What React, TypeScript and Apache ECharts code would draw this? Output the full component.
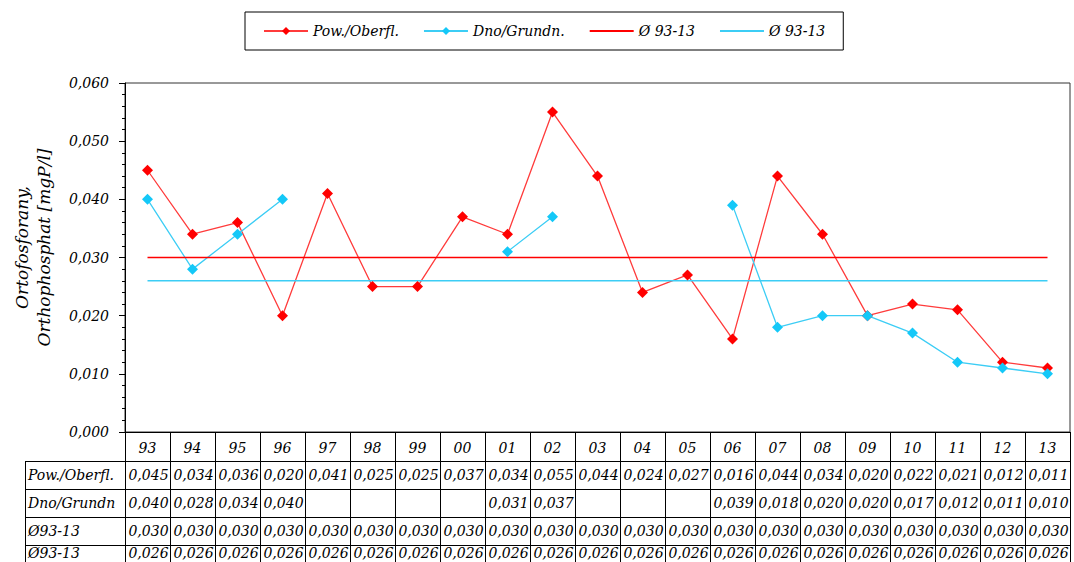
import React, { useEffect, useRef } from 'react';
import * as echarts from 'echarts';

const categories = ['93', '94', '95', '96', '97', '98', '99', '00', '01', '02', '03', '04', '05', '06', '07', '08', '09', '10', '11', '12', '13'];
const powValues = [0.045, 0.034, 0.036, 0.020, 0.041, 0.025, 0.025, 0.037, 0.034, 0.055, 0.044, 0.024, 0.027, 0.016, 0.044, 0.034, 0.020, 0.022, 0.021, 0.012, 0.011];
const dnoValues = [0.040, 0.028, 0.034, 0.040, null, null, null, null, 0.031, 0.037, null, null, null, 0.039, 0.018, 0.020, 0.020, 0.017, 0.012, 0.011, 0.010];
const avgPowValues = [0.030, 0.030, 0.030, 0.030, 0.030, 0.030, 0.030, 0.030, 0.030, 0.030, 0.030, 0.030, 0.030, 0.030, 0.030, 0.030, 0.030, 0.030, 0.030, 0.030, 0.030];
const avgDnoValues = [0.026, 0.026, 0.026, 0.026, 0.026, 0.026, 0.026, 0.026, 0.026, 0.026, 0.026, 0.026, 0.026, 0.026, 0.026, 0.026, 0.026, 0.026, 0.026, 0.026, 0.026];
const seriesNames = ['Pow./Oberfl.', 'Dno/Grundn.', 'Ø 93-13', 'Ø 93-13 '];
const rowLabels = ['Pow./Oberfl.', 'Dno/Grundn', 'Ø93-13', 'Ø93-13'];
const yAxisTitle = 'Ortofosforany,\nOrthophosphat [mgP/l]';

const FONT = '"DejaVu Serif", "Liberation Serif", serif';
const RED = '#ff0000';
const RED_LINE = '#ff3b3b';
const CYAN = '#14c8f8';
const CYAN_LINE = '#3ccdf5';

const W = 1074;
const H = 562;
const L = 125;
const R = 1070;
const T = 83;
const B = 432;

function fmt(v: number | null) {
  return v == null ? '' : v.toFixed(3).replace('.', ',');
}

function buildTable() {
  const els: any[] = [];
  const n = categories.length;
  const colW = (R - L) / n;
  const headerBottom = 461;
  const rowH = 28;
  const tableLeft = 25;
  const lineStyle = { stroke: '#000', lineWidth: 1 };
  for (let i = 0; i < 4; i++) {
    const y = Math.round(headerBottom + i * rowH) + 0.5;
    els.push({ type: 'line', shape: { x1: tableLeft, y1: y, x2: R, y2: y }, style: lineStyle, silent: true });
  }
  for (let i = 0; i <= n; i++) {
    const x = Math.round(L + i * colW) + 0.5;
    els.push({ type: 'line', shape: { x1: x, y1: B, x2: x, y2: H }, style: lineStyle, silent: true });
  }
  els.push({ type: 'line', shape: { x1: tableLeft + 0.5, y1: headerBottom, x2: tableLeft + 0.5, y2: H }, style: lineStyle, silent: true });
  const rows = [powValues, dnoValues, avgPowValues, avgDnoValues];
  rows.forEach((vals, r) => {
    let cy = headerBottom + r * rowH + rowH / 2;
    if (r === rows.length - 1) cy = Math.min(cy, H - 9);
    els.push({
      type: 'text',
      silent: true,
      style: { text: rowLabels[r], x: tableLeft + 3, y: cy, font: `italic 14px ${FONT}`, fill: '#000', align: 'left', verticalAlign: 'middle', textAlign: 'left', textVerticalAlign: 'middle' },
    });
    vals.forEach((v, i) => {
      els.push({
        type: 'text',
        silent: true,
        style: { text: fmt(v), x: L + i * colW + colW / 2 + 1, y: cy, font: `italic 14px ${FONT}`, fill: '#000', align: 'center', verticalAlign: 'middle', textAlign: 'center', textVerticalAlign: 'middle' },
      });
    });
  });
  return els;
}

export default function App() {
  const ref = useRef<HTMLDivElement>(null);
  useEffect(() => {
    if (!ref.current) return;
    const chart = echarts.init(ref.current, null, { renderer: 'svg' });
    const marker = { symbol: 'diamond', symbolSize: 11 };
    chart.setOption({
      animation: false,
      backgroundColor: '#fff',
      legend: {
        left: 245,
        top: 12,
        width: 590,
        borderColor: '#000',
        borderWidth: 1,
        padding: [12, 18, 12, 18],
        itemGap: 24,
        itemWidth: 44,
        itemHeight: 10,
        data: [
          { name: seriesNames[0] },
          { name: seriesNames[1] },
          { name: seriesNames[2], itemStyle: { opacity: 0 } },
          { name: seriesNames[3], itemStyle: { opacity: 0 } },
        ],
        formatter: (name: string) => name.trim(),
        textStyle: { fontFamily: FONT, fontStyle: 'italic', fontSize: 14, color: '#000' },
      },
      grid: { left: L, right: W - R, top: T, bottom: H - B, show: true, borderColor: '#333', borderWidth: 1, containLabel: false, outerBoundsMode: 'none' },
      xAxis: {
        type: 'category',
        data: categories,
        boundaryGap: true,
        axisLine: { lineStyle: { color: '#000', width: 1 } },
        axisTick: { show: false },
        axisLabel: { fontFamily: FONT, fontStyle: 'italic', fontSize: 14, color: '#000', margin: 9 },
        splitLine: { show: false },
      },
      yAxis: {
        type: 'value',
        min: 0,
        max: 0.06,
        interval: 0.01,
        name: yAxisTitle,
        nameLocation: 'middle',
        nameRotate: 90,
        nameGap: 70,
        nameTextStyle: { fontFamily: FONT, fontStyle: 'italic', fontSize: 17, color: '#000', lineHeight: 22, align: 'center', padding: [0, 0, 0, 20] },
        axisLine: { show: true, lineStyle: { color: '#000', width: 1 } },
        axisTick: { show: true, length: 6, lineStyle: { color: '#000' } },
        minorTick: { show: true, splitNumber: 5, length: 3, lineStyle: { color: '#000' } },
        splitLine: { show: false },
        axisLabel: {
          fontFamily: FONT,
          fontStyle: 'italic',
          fontSize: 14,
          color: '#000',
          margin: 16,
          formatter: (v: number) => v.toFixed(3).replace('.', ','),
        },
      },
      series: [
        {
          name: seriesNames[0],
          type: 'line',
          data: powValues,
          ...marker,
          itemStyle: { color: RED },
          lineStyle: { color: RED_LINE, width: 1.3 },
        },
        {
          name: seriesNames[1],
          type: 'line',
          data: dnoValues,
          connectNulls: false,
          ...marker,
          itemStyle: { color: CYAN },
          lineStyle: { color: CYAN_LINE, width: 1.3 },
        },
        {
          name: seriesNames[2],
          type: 'line',
          data: avgPowValues,
          symbol: 'none',
          itemStyle: { color: RED },
          lineStyle: { color: RED, width: 1.3 },
        },
        {
          name: seriesNames[3],
          type: 'line',
          data: avgDnoValues,
          symbol: 'none',
          itemStyle: { color: CYAN_LINE },
          lineStyle: { color: CYAN_LINE, width: 1.3 },
        },
      ],
      graphic: buildTable(),
    });
    return () => chart.dispose();
  }, []);
  return <div ref={ref} style={{ position: 'absolute', left: 0, top: 0, width: W, height: H }} />;
}
